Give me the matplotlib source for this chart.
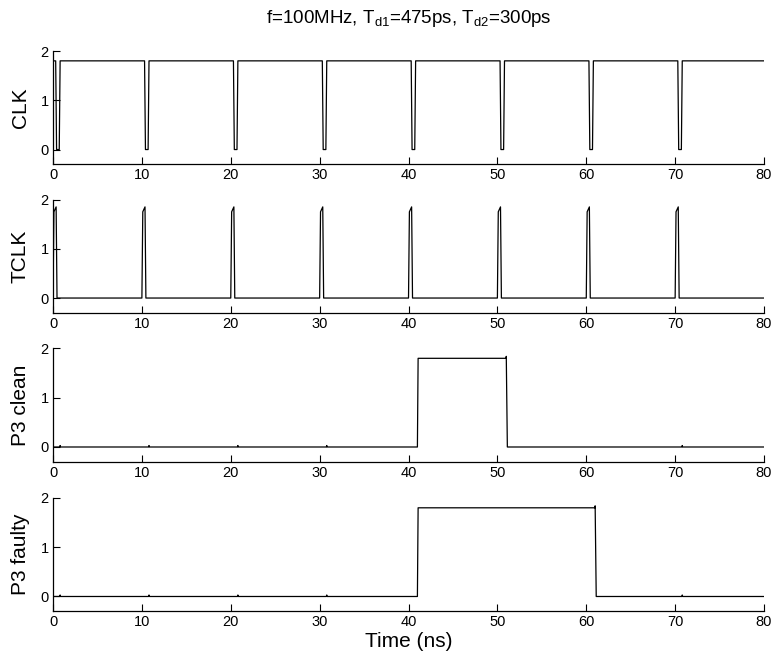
import numpy as np
import matplotlib
matplotlib.use('Agg')
import matplotlib.pyplot as plt

plt.rcParams['font.family'] = ['Liberation Sans', 'DejaVu Sans']
plt.rcParams['mathtext.fontset'] = 'custom'
plt.rcParams['mathtext.rm'] = 'Liberation Sans'
plt.rcParams['mathtext.it'] = 'Liberation Sans'

# ─── DATA (times in ns, levels in V) ──────────────────────────────────────
V_HIGH = 1.8
T_END = 80.0

# CLK is high except for a short low dip after each period start
CLK_LOW_START = [0.30, 10.30, 20.30, 30.30, 40.30, 50.30, 60.30, 70.30]
CLK_LOW_END   = [0.80, 10.80, 20.80, 30.80, 40.80, 50.80, 60.80, 70.80]

# TCLK is low except for a narrow pulse at each period start
TCLK_HIGH_START = [0.00, 10.00, 20.00, 30.00, 40.00, 50.00, 60.00, 70.00]
TCLK_HIGH_END   = [0.45, 10.45, 20.45, 30.45, 40.45, 50.45, 60.45, 70.45]

P3_CLEAN_HIGH  = (41.0, 51.0)
P3_FAULTY_HIGH = (41.0, 61.0)

# tiny glitches seen on the P3 traces
GLITCH_TIMES = [0.8, 10.8, 20.8, 30.8, 70.8]
GLITCH_AMP = 0.03

TITLE = r'f=100MHz, T$_{\rm d1}$=475ps, T$_{\rm d2}$=300ps'
YLABELS = ['CLK', 'TCLK', 'P3 clean', 'P3 faulty']
XTICKS = [0, 10, 20, 30, 40, 50, 60, 70, 80]
YTICKS = [0, 1, 2]

EDGE = 0.1  # ramp width of each edge


def dips(starts, ends, base, level):
    """Piecewise-linear trace sitting at `base` with excursions to `level`."""
    t, v = [0.0], [base]
    for s, e in zip(starts, ends):
        t += [s, s + EDGE, e - EDGE, e]
        v += [base, level, level, base]
    t.append(T_END)
    v.append(base)
    return np.array(t), np.array(v)


def pulse_with_glitches(window, glitches):
    s, e = window
    t, v = [0.0], [0.0]
    for g in glitches:
        if g < s:
            t += [g - 0.05, g, g + 0.05]
            v += [0.0, GLITCH_AMP, 0.0]
    t += [s, s + 0.08, e - 0.02, e, e + 0.12]
    v += [0.0, V_HIGH, V_HIGH, V_HIGH + 0.04, 0.0]
    for g in glitches:
        if g > e:
            t += [g - 0.05, g, g + 0.05]
            v += [0.0, GLITCH_AMP, 0.0]
    t.append(T_END)
    v.append(0.0)
    return np.array(t), np.array(v)


# CLK starts at 0 and jumps high right away
t_clk, v_clk = dips(CLK_LOW_START, CLK_LOW_END, V_HIGH, 0.0)
t_clk = np.concatenate([[0.0], t_clk])
v_clk = np.concatenate([[0.0], v_clk])
t_clk[1] = 0.03

t_tclk, v_tclk = dips(TCLK_HIGH_START, TCLK_HIGH_END, 0.0, V_HIGH)
# the TCLK pulses have a slightly slanted top
for i in range(len(t_tclk)):
    if v_tclk[i] == V_HIGH and i + 1 < len(v_tclk) and v_tclk[i + 1] == V_HIGH:
        v_tclk[i] = 1.75
        v_tclk[i + 1] = 1.85

t_p3c, v_p3c = pulse_with_glitches(P3_CLEAN_HIGH, GLITCH_TIMES)
t_p3f, v_p3f = pulse_with_glitches(P3_FAULTY_HIGH, GLITCH_TIMES)

traces = [(t_clk, v_clk), (t_tclk, v_tclk), (t_p3c, v_p3c), (t_p3f, v_p3f)]

# ─── FIGURE ───────────────────────────────────────────────────────────────
fig = plt.figure(figsize=(7.74, 6.65), dpi=100, facecolor='white')

LEFT, WIDTH, HEIGHT = 0.0685, 0.9186, 0.1704
BOTTOMS = [0.7529, 0.5296, 0.3056, 0.0808]

for (t, v), label, bottom in zip(traces, YLABELS, BOTTOMS):
    ax = fig.add_axes([LEFT, bottom, WIDTH, HEIGHT])
    ax.plot(t, v, color='black', linewidth=0.9)
    ax.set_xlim(0, 80)
    ax.set_ylim(-0.3, 2)
    ax.set_xticks(XTICKS)
    ax.set_yticks(YTICKS)
    ax.spines['top'].set_visible(False)
    ax.spines['right'].set_visible(False)
    for sp in ('left', 'bottom'):
        ax.spines[sp].set_linewidth(0.9)
    ax.tick_params(direction='in', length=5, width=0.8, labelsize=10.5,
                   pad=3)
    ax.set_ylabel(label, fontsize=15)
    ax.yaxis.set_label_coords(-0.033, 0.5)

ax.set_xlabel('Time (ns)', fontsize=15)
ax.xaxis.set_label_coords(0.5, -0.185)

fig.text(LEFT + WIDTH / 2, 0.972, TITLE, ha='center', va='center',
         fontsize=13.5)

plt.savefig('out.png', dpi=100, facecolor='white')
plt.close()
